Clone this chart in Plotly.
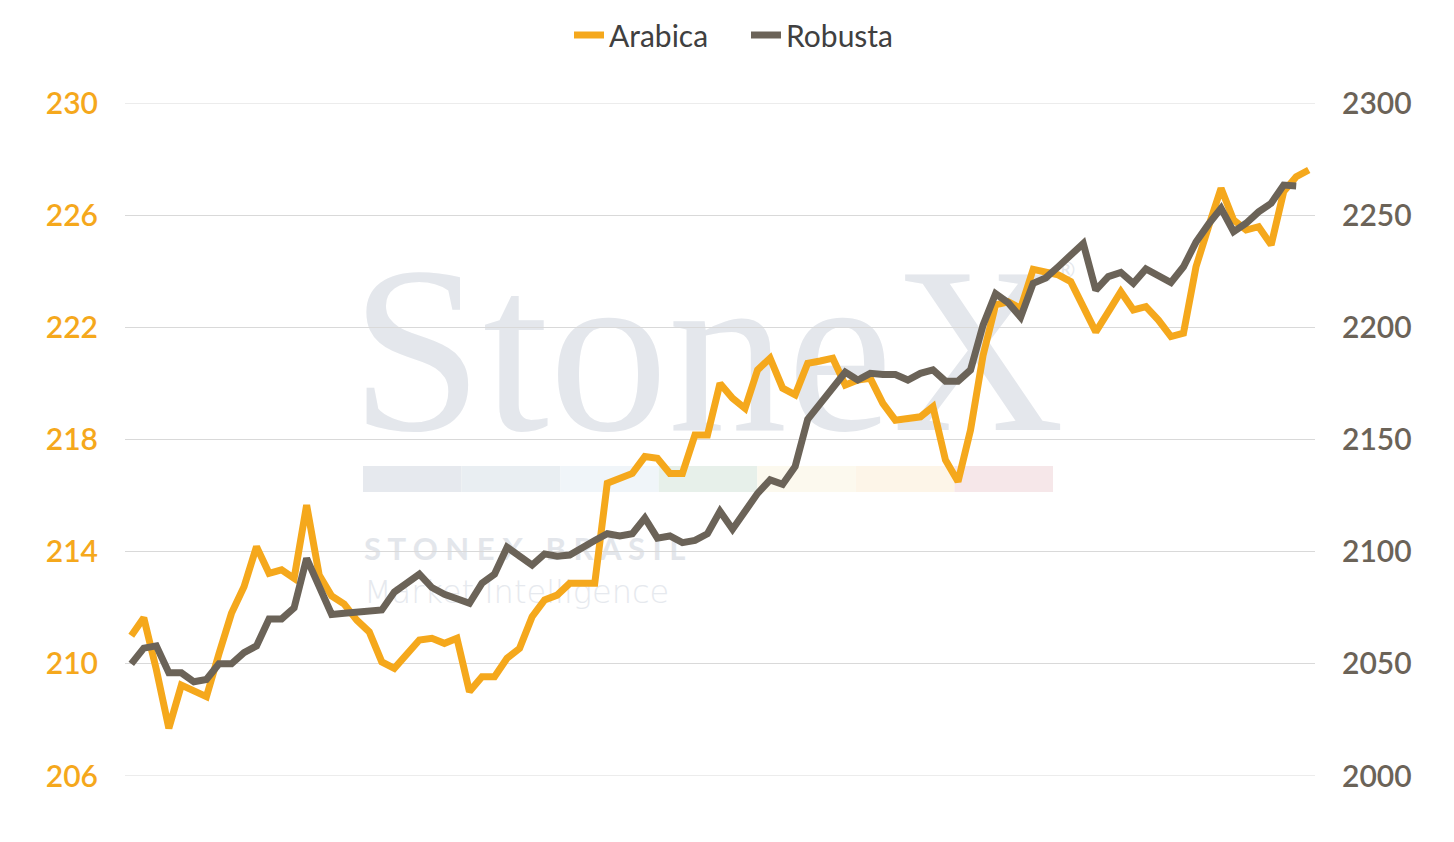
import plotly.graph_objects as go

# Category positions (trading days, no labels shown on the axis)
days = list(range(95))

arabica = [211.0, 211.64, 209.8, 207.7, 209.24, 209.06, 208.83, 210.36, 211.8, 212.75,
           214.18, 213.23, 213.35, 213.05, 215.66, 213.17, 212.42, 212.13, 211.56, 211.14,
           210.07, 209.84, 210.31, 210.85, 210.91, 210.73, 210.91, 209.01, 209.54, 209.54,
           210.2, 210.55, 211.68, 212.28, 212.45, 212.87, 212.87, 212.87, 216.44, 216.62,
           216.79, 217.39, 217.33, 216.79, 216.79, 218.16, 218.16, 220.0, 219.47, 219.11,
           220.48, 220.9, 219.83, 219.59, 220.72, 220.8, 220.9, 219.94, 220.12, 220.18,
           219.29, 218.69, 218.77, 218.81, 219.17, 217.27, 216.5, 218.34, 221.0, 222.8,
           222.91, 222.68, 224.07, 223.98, 223.87, 223.63, 222.8, 221.84, 222.55, 223.27,
           222.62, 222.74, 222.26, 221.67, 221.79, 224.16, 225.59, 226.96, 225.83, 225.47,
           225.59, 224.94, 226.84, 227.37, 227.61]

robusta = [2050, 2057, 2058, 2046, 2046, 2042, 2043, 2050, 2050, 2055,
           2058, 2070, 2070, 2075, 2097, 2085, 2072, 2072.5, 2073, 2073.5,
           2074, 2082, 2086, 2090, 2084, 2081, 2079, 2077, 2086, 2090,
           2102, 2098, 2094, 2099, 2098, 2098.5, 2102, 2105, 2108, 2107,
           2108, 2115, 2106, 2107, 2104, 2105, 2108, 2118, 2110, 2118,
           2126, 2132, 2130, 2138, 2159, 2166, 2173, 2180, 2176.5, 2179.5,
           2179, 2179, 2176.5, 2179.5, 2181, 2176, 2176, 2181, 2201, 2215,
           2211, 2204.5, 2219.6, 2222, 2227, 2232, 2237.4, 2216.6, 2222.6, 2224.5,
           2219.6, 2226, 2223, 2220, 2227, 2238, 2246, 2253, 2242.6, 2246.4,
           2251.5, 2255.3, 2263.4, 2263]

left_ticks = [206, 210, 214, 218, 222, 226, 230]
right_ticks = [2000, 2050, 2100, 2150, 2200, 2250, 2300]

ORANGE = "#F5A81C"
GREY = "#6B6358"
GRID = "#D9D9D9"

fig = go.Figure()
fig.add_trace(go.Scatter(x=days, y=arabica, name="Arabica", mode="lines",
                         line=dict(color=ORANGE, width=7), yaxis="y"))
fig.add_trace(go.Scatter(x=days[:len(robusta)], y=robusta, name="Robusta", mode="lines",
                         line=dict(color=GREY, width=7), yaxis="y2"))

# page body has an 8px margin; target plot area in screenshot pixels: x 125..1315, y 103..776
OFF = 8
L, R, T, B = 125, 1315, 103, 776
W, H = R - L, B - T
FW, FH = 1454, 842


def px(xp):
    return (xp - L) / W


def py(yp):
    return (B - yp) / H


shapes = []
# gridlines at the edges of the value range
for v in (left_ticks[0], left_ticks[-1]):
    shapes.append(dict(type="line", xref="paper", yref="y", layer="below",
                       x0=0, x1=1, y0=v, y1=v, line=dict(color=GRID, width=1)))
# watermark
shapes.append(dict(type="rect", xref="paper", yref="paper", layer="below",
                   x0=px(330), x1=px(1085), y0=py(418), y1=py(228),
                   line=dict(width=0), fillcolor="rgba(0,0,0,0)",
                   label=dict(text="StoneX", textposition="middle center",
                              font=dict(family="Liberation Serif", size=238, color="#E4E7EC"))))
shapes.append(dict(type="rect", xref="paper", yref="paper", layer="below",
                   x0=px(1048), x1=px(1083), y0=py(285), y1=py(252),
                   line=dict(width=0), fillcolor="rgba(0,0,0,0)",
                   label=dict(text="®", textposition="middle center",
                              font=dict(family="Lato", size=24, color="#E4E7EC"))))
bar_colors = ["#E6E9EE", "#E9EEF2", "#F0F5F9", "#E7F0EA", "#FCF9EE", "#FDF5E8", "#F6E7E9"]
seg = (1053 - 363) / len(bar_colors)
for i, c in enumerate(bar_colors):
    shapes.append(dict(type="rect", xref="paper", yref="paper", layer="below",
                       x0=px(363 + i * seg), x1=px(363 + (i + 1) * seg),
                       y0=py(492), y1=py(466), line=dict(width=0), fillcolor=c))
shapes.append(dict(type="rect", xref="paper", yref="paper", layer="below",
                   x0=px(358), x1=px(760), y0=py(565), y1=py(530),
                   line=dict(width=0), fillcolor="rgba(0,0,0,0)",
                   label=dict(text="S T O N E X   B R A S I L", textposition="middle left",
                              font=dict(family="Lato", size=31, color="#E3E6EB", weight="bold"))))
shapes.append(dict(type="rect", xref="paper", yref="paper", layer="below",
                   x0=px(358), x1=px(760), y0=py(608), y1=py(572),
                   line=dict(width=0), fillcolor="rgba(0,0,0,0)",
                   label=dict(text="Market Intelligence", textposition="middle left",
                              font=dict(family="DejaVu Sans", size=32, color="#E6E9EE", weight=200))))

fig.update_layout(
    width=FW, height=FH,
    margin=dict(l=L - OFF, r=FW - (R - OFF), t=T - OFF, b=FH - (B - OFF), autoexpand=False),
    paper_bgcolor="white", plot_bgcolor="white",
    font=dict(family="Lato"),
    showlegend=True,
    legend=dict(orientation="h", xref="container", yref="container",
                x=(569 - OFF) / FW, xanchor="left",
                y=1 - (35 - OFF) / FH, yanchor="middle",
                font=dict(size=30, color="#404040"), traceorder="normal",
                entrywidth=132, entrywidthmode="pixels",
                bgcolor="rgba(0,0,0,0)"),
    xaxis=dict(range=[-0.5, 94.5], showticklabels=False, showgrid=False, zeroline=False,
               showline=False, ticks=""),
    yaxis=dict(range=[206, 230], tickvals=left_ticks, ticktext=[str(v) for v in left_ticks],
               showgrid=True, gridcolor=GRID, gridwidth=1, zeroline=False,
               showline=False, ticks="", ticklabelstandoff=26,
               tickfont=dict(size=30, color=ORANGE, weight=600)),
    yaxis2=dict(range=[2000, 2300], tickvals=right_ticks, ticktext=[str(v) for v in right_ticks],
                overlaying="y", side="right", showgrid=False, zeroline=False,
                showline=False, ticks="", ticklabelstandoff=26,
                tickfont=dict(size=30, color=GREY, weight=600)),
    shapes=shapes,
)

fig.write_html("out.html")
